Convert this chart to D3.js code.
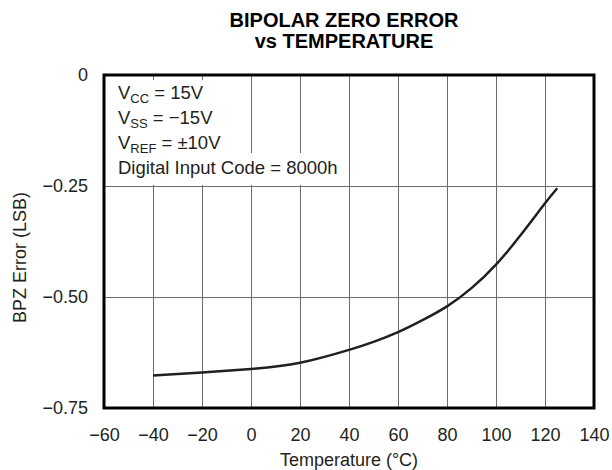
<!DOCTYPE html>
<html>
<head>
<meta charset="utf-8">
<script src="https://cdn.jsdelivr.net/npm/d3@7"></script>
<style>
  html, body { margin: 0; padding: 0; background: #fff; }
  svg { display: block; font-family: "Liberation Sans", Arial, Helvetica, sans-serif; }
  .grid line { stroke: #6d6d6d; stroke-width: 1; }
  .grid path { display: none; }
  .axis path, .axis line { display: none; }
  .axis text { fill: #231f20; font-size: 18px; }
</style>
</head>
<body>
<svg id="chart" width="612" height="470"></svg>
<script>
// temperature (°C) vs BPZ error (LSB)
const temperature = [-40, -20, 0, 20, 40, 50, 60, 70, 80, 90, 100, 110, 120, 125];
const bpzError = [-0.677, -0.670, -0.662, -0.648, -0.619, -0.601, -0.579, -0.552, -0.521, -0.480, -0.427, -0.361, -0.289, -0.255];

const xTicks = [-60, -40, -20, 0, 20, 40, 60, 80, 100, 120, 140];
const yTicks = [0, -0.25, -0.5, -0.75];
const yTickLabels = ['0', '\u22120.25', '\u22120.50', '\u22120.75'];

const titleLines = ['BIPOLAR ZERO ERROR', 'vs TEMPERATURE'];
const xLabel = 'Temperature (\u00B0C)';
const yLabel = 'BPZ Error (LSB)';

// each note line: [main, subscript, rest]
const notes = [
  ['V', 'CC', ' = 15V'],
  ['V', 'SS', ' = \u221215V'],
  ['V', 'REF', ' = \u00B110V'],
  ['Digital Input Code = 8000h', '', ''],
];

const ink = '#231f20';

const svg = d3.select('#chart');

const margin = { top: 75, right: 18, bottom: 62, left: 104 };
const width = 612 - margin.left - margin.right;
const height = 470 - margin.top - margin.bottom;

const root = svg
  .append('g')
  .attr('transform', `translate(${margin.left},${margin.top})`);

//
// Scales
//

const x = d3.scaleLinear().domain([-60, 140]).range([0, width]);
const y = d3.scaleLinear().domain([-0.75, 0]).range([height, 0]);

//
// Grid
//

root
  .append('g')
  .attr('class', 'grid')
  .attr('transform', `translate(0, ${height})`)
  .call(d3.axisBottom(x).tickValues(xTicks.slice(1, -1)).tickSize(-height).tickFormat(() => ''));

root
  .append('g')
  .attr('class', 'grid')
  .call(d3.axisLeft(y).tickValues(yTicks.slice(1, -1)).tickSize(-width).tickFormat(() => ''));

//
// Note box (white patch over the grid)
//

root
  .append('rect')
  .attr('x', 0)
  .attr('y', 5)
  .attr('width', 118)
  .attr('height', y(-0.25) - 6)
  .attr('fill', '#fff');

root
  .append('rect')
  .attr('x', 0)
  .attr('y', 78)
  .attr('width', 240)
  .attr('height', y(-0.25) - 79)
  .attr('fill', '#fff');

const noteText = root
  .append('text')
  .attr('fill', ink)
  .attr('font-size', 18.5);

notes.forEach((n, i) => {
  const line = noteText.append('tspan').attr('x', 14).attr('y', 24 + i * 25);
  line.append('tspan').text(n[0]);
  if (n[1]) {
    line.append('tspan').attr('font-size', 13).attr('dy', 4).text(n[1]);
    line.append('tspan').attr('dy', -4).text(n[2]);
  }
});

//
// Curve
//

const curve = d3
  .line()
  .curve(d3.curveNatural)
  .x((d, i) => x(temperature[i]))
  .y((d) => y(d));

root
  .append('path')
  .datum(bpzError)
  .attr('fill', 'none')
  .attr('stroke', ink)
  .attr('stroke-width', 2.5)
  .attr('d', curve);

//
// Frame
//

root
  .append('rect')
  .attr('width', width)
  .attr('height', height)
  .attr('fill', 'none')
  .attr('stroke', '#000')
  .attr('stroke-width', 3);

//
// Axes
//

root
  .append('g')
  .attr('class', 'axis')
  .attr('transform', `translate(0, ${height})`)
  .call(d3.axisBottom(x).tickValues(xTicks).tickSize(0).tickPadding(20)
    .tickFormat((d) => (d < 0 ? '\u2212' + Math.abs(d) : d)));

root
  .append('g')
  .attr('class', 'axis')
  .call(d3.axisLeft(y).tickValues(yTicks).tickSize(0).tickPadding(16)
    .tickFormat((d, i) => yTickLabels[i]));

//
// Labels
//

svg
  .append('text')
  .attr('x', margin.left + width / 2)
  .attr('y', 466)
  .attr('text-anchor', 'middle')
  .attr('fill', ink)
  .attr('font-size', 18)
  .text(xLabel);

svg
  .append('text')
  .attr('transform', `translate(26, ${margin.top + height / 2 + 16}) rotate(-90)`)
  .attr('text-anchor', 'middle')
  .attr('fill', ink)
  .attr('font-size', 18)
  .text(yLabel);

svg
  .append('text')
  .attr('text-anchor', 'middle')
  .attr('fill', '#000')
  .attr('font-weight', 'bold')
  .attr('font-size', 20)
  .selectAll('tspan')
  .data(titleLines)
  .join('tspan')
  .attr('x', margin.left + width / 2 - 5)
  .attr('y', (d, i) => 27 + i * 21)
  .text((d) => d);
</script>
</body>
</html>
